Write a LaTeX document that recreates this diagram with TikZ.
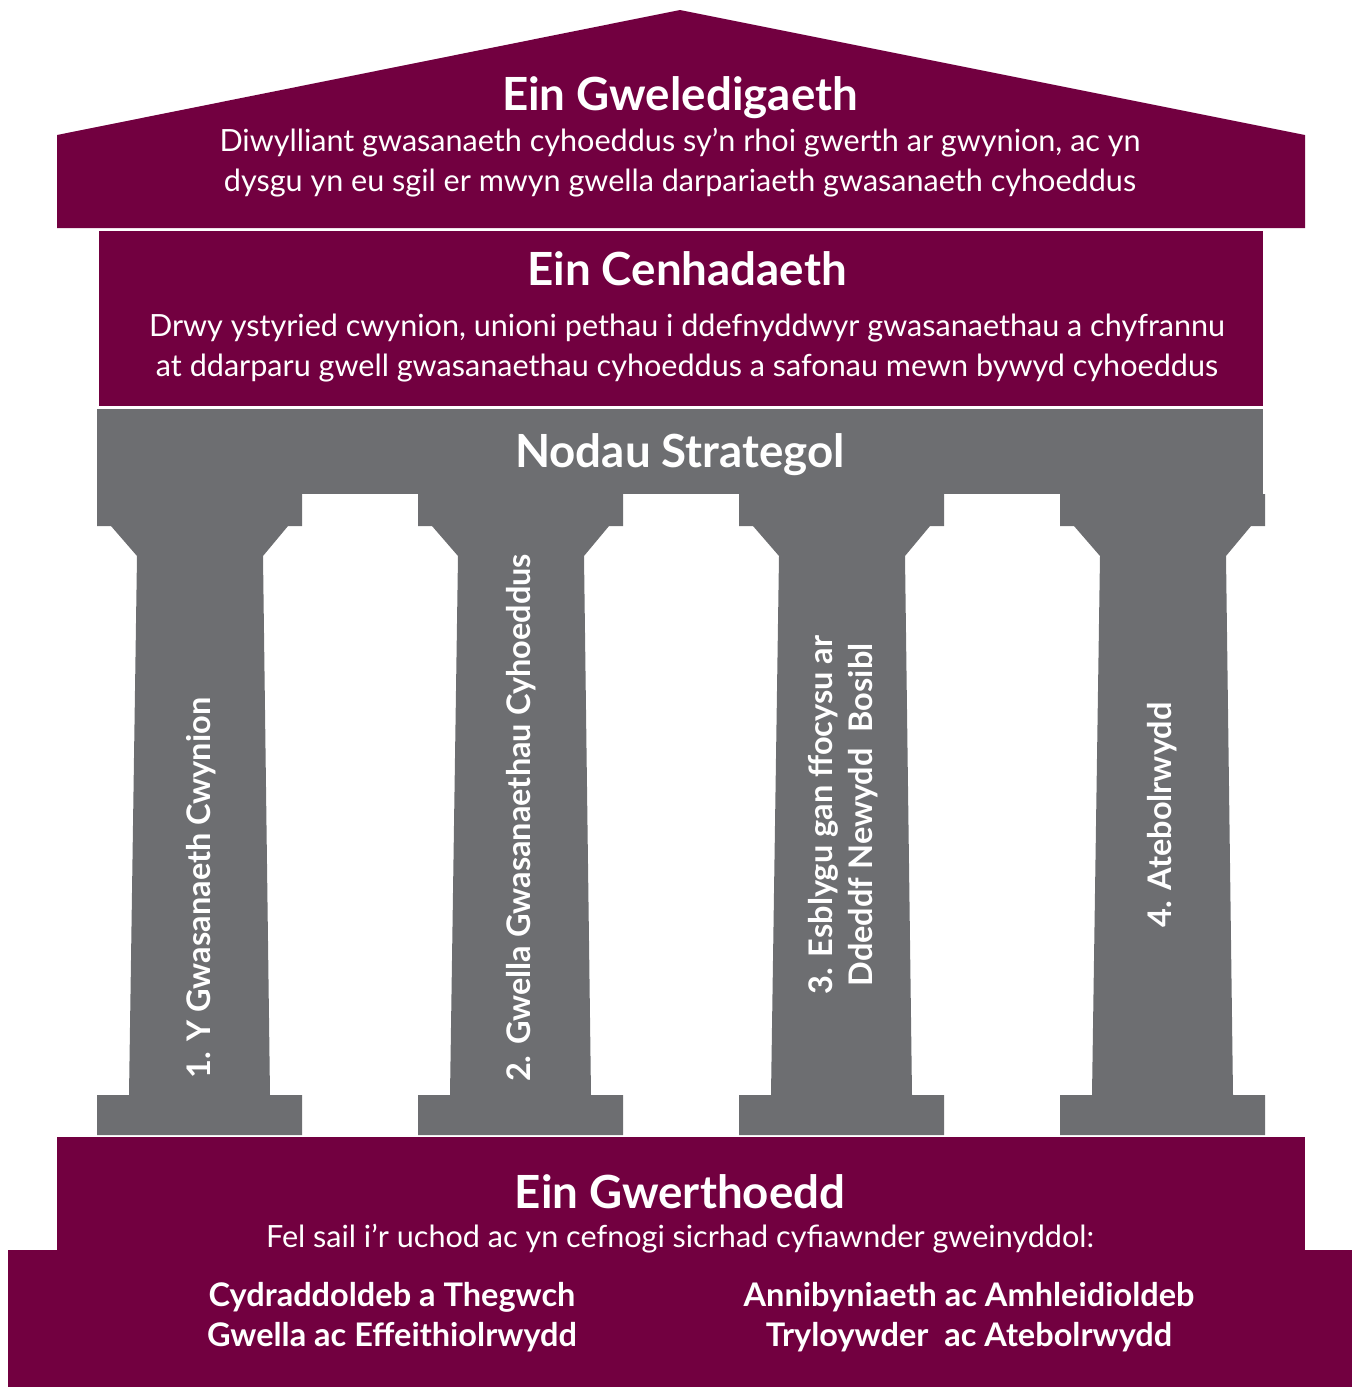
\documentclass[tikz,border=0pt]{standalone}
\usepackage{fontspec}
\setmainfont{Lato}
\definecolor{wine}{HTML}{720040}
\definecolor{slate}{HTML}{6D6E71}
\tikzset{
  title/.style={text=white, font=\bfseries\fontsize{26}{30}\selectfont},
  body/.style={text=white, align=center, font=\fontsize{17.4}{22.8}\selectfont},
  pillar/.style={text=white, rotate=90, align=center, font=\bfseries\fontsize{18.5}{23}\selectfont},
  value/.style={text=white, align=center, font=\bfseries\fontsize{18.5}{22.8}\selectfont}
}
\begin{document}
\begin{tikzpicture}[x=0.2mm, y=-0.2mm]
\useasboundingbox (0,0) rectangle (1357,1387);
% roof
\fill[wine] (57,228) -- (57,135) -- (680,10) -- (1305,135) -- (1305,228) -- cycle;
\fill[wine] (99,231) rectangle (1263,406);
% entablature and pillars
\fill[slate] (97,409) rectangle (1263,494);
\foreach \d in {0,321,642,963}{
  \fill[slate] (97+\d,494) -- (302+\d,494) -- (302+\d,526) -- (288+\d,526) -- (263+\d,556)
    -- (270+\d,1095) -- (302+\d,1095) -- (302+\d,1135) -- (97+\d,1135) -- (97+\d,1095)
    -- (129+\d,1095) -- (137+\d,556) -- (111+\d,526) -- (97+\d,526) -- cycle;
}
% base
\fill[wine] (57,1137) rectangle (1305,1252);
\fill[wine] (8,1250) rectangle (1352,1387);

\node[title] (vision) at (680,98) {Ein Gweledigaeth};
\node[body] (visiontext) at (680,163) {Diwylliant gwasanaeth cyhoeddus sy’n rhoi gwerth ar gwynion, ac yn\\dysgu yn eu sgil er mwyn gwella darpariaeth gwasanaeth cyhoeddus};
\node[title] (mission) at (687,269) {Ein Cenhadaeth};
\node[body] (missiontext) at (687,348) {Drwy ystyried cwynion, unioni pethau i ddefnyddwyr gwasanaethau a chyfrannu\\at ddarparu gwell gwasanaethau cyhoeddus a safonau mewn bywyd cyhoeddus};
\node[title] (aims) at (680,455) {Nodau Strategol};

\node[pillar] (aim1) at (201,888) {1. Y Gwasanaeth Cwynion};
\node[pillar] (aim2) at (521,818) {2. Gwella Gwasanaethau Cyhoeddus};
\node[pillar] (aim3) at (843,815) {3. Esblygu gan ffocysu ar\\Ddeddf Newydd\ \ Bosibl};
\node[pillar] (aim4) at (1162,815) {4. Atebolrwydd};

\node[title] (values) at (680,1192) {Ein Gwerthoedd};
\node[body] (valuestext) at (680,1239) {Fel sail i’r uchod ac yn cefnogi sicrhad cyfiawnder gweinyddol:};
\node[value] (valueleft) at (392,1317) {Cydraddoldeb a Thegwch\\Gwella ac Effeithiolrwydd};
\node[value] (valueright) at (969,1317) {Annibyniaeth ac Amhleidioldeb\\Tryloywder\ \ ac Atebolrwydd};
\end{tikzpicture}
\end{document}
